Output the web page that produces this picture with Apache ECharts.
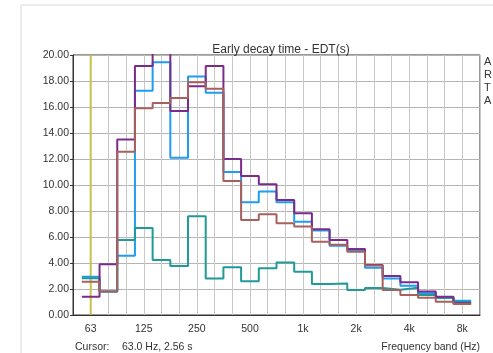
<!DOCTYPE html>
<html>
<head>
<meta charset="utf-8">
<script src="https://cdn.jsdelivr.net/npm/echarts@6/dist/echarts.min.js"></script>
<style>
html,body{margin:0;padding:0;background:#fff;}
#c{width:493px;height:353px;}
</style>
</head>
<body>
<div id="c"></div>
<script>
// 1/3-octave bands, index 1..22 on the x scale (index 0 = 50 Hz, 23 = 10 kHz)
const bands = ['63','80','100','125','160','200','250','315','400','500','630','800','1k','1.25k','1.6k','2k','2.5k','3.15k','4k','5k','6.3k','8k'];
const octaveLabels = {1:'63',4:'125',7:'250',10:'500',13:'1k',16:'2k',19:'4k',22:'8k'};
const blueVals   = [2.95,1.8,4.56,17.25,19.45,12.1,18.35,17.1,11.0,8.67,9.5,8.67,7.18,6.5,5.33,4.95,3.64,2.8,2.25,1.67,1.35,1.1];
const tealVals   = [2.82,1.8,5.77,6.7,4.23,3.77,7.6,2.8,3.67,2.6,3.6,4.03,3.33,2.38,2.42,1.92,2.08,1.95,2.1,1.54,1.3,1.0];
const purpleVals = [1.41,3.9,13.5,19.15,21.0,15.7,17.6,19.15,12.0,10.7,10.05,8.85,7.82,6.6,5.77,5.08,3.85,3.0,2.51,1.8,1.41,0.9];
const brownVals  = [2.56,1.8,12.56,15.9,16.3,16.7,17.9,17.4,10.3,7.3,7.75,7.05,6.8,5.64,5.4,4.87,3.8,1.92,1.54,1.33,1.02,0.85];
const cursorBand = 1;

function stepData(vals){
  const d = vals.map((v,i)=>[i+0.5, v]);
  d.push([vals.length+0.5, vals[vals.length-1]]);
  return d;
}
function stepSeries(name, vals, color){
  return {name, type:'line', step:'end', data:stepData(vals), symbol:'none',
    lineStyle:{color, width:2}, clip:true, silent:true, animation:false};
}
const chart = echarts.init(document.getElementById('c'), null, {renderer:'canvas'});
chart.setOption({
  animation:false,
  backgroundColor:'#fff',
  title:{text:'Early decay time - EDT(s)', left:276, top:39, textAlign:'center',
    textStyle:{fontFamily:'Liberation Sans, Arial', fontSize:12, fontWeight:'normal', color:'#333'}},
  grid:{left:73, right:13, top:55, bottom:38, show:true, borderColor:'#333', borderWidth:1, containLabel:false},
  xAxis:{type:'value', min:0, max:23, interval:1,
    axisLine:{show:true, lineStyle:{color:'#333'}}, axisTick:{show:false},
    axisLabel:{fontFamily:'Liberation Sans, Arial', fontSize:10.5, color:'#333', margin:9,
      formatter:v=>octaveLabels[v]||''},
    splitLine:{show:true, lineStyle:{color:'#c8c8c8', width:1}}},
  yAxis:{type:'value', min:0, max:20, interval:2,
    axisLine:{show:true, lineStyle:{color:'#333'}},
    axisTick:{show:true, length:3, lineStyle:{color:'#333'}},
    axisLabel:{fontFamily:'Liberation Sans, Arial', fontSize:10.5, color:'#333', margin:4,
      formatter:v=>v.toFixed(2)},
    splitLine:{show:true, lineStyle:{color:'#b4b4b4', width:1}}},
  series:[
    {type:'line', data:[[cursorBand,0],[cursorBand,20]], symbol:'none',
      lineStyle:{color:'#c9c04a', width:2}, silent:true, z:1},
    stepSeries('blue', blueVals, '#1e9cf0'),
    stepSeries('teal', tealVals, '#1f9a98'),
    stepSeries('purple', purpleVals, '#7b2b8b'),
    stepSeries('brown', brownVals, '#a8605c')
  ],
  graphic:[
    {type:'rect', shape:{x:21, y:5, width:520, height:400}, style:{fill:'none', stroke:'#d8d8d8', lineWidth:1}, z:-10},
    {type:'text', left:484, top:55, style:{text:'A\nR\nT\nA', font:'11px Liberation Sans, Arial', fill:'#333', lineHeight:13}},
    {type:'text', left:75, top:342, style:{text:'Cursor:', font:'10.5px Liberation Sans, Arial', fill:'#333'}},
    {type:'text', left:122, top:342, style:{text:'63.0 Hz, 2.56 s', font:'10.5px Liberation Sans, Arial', fill:'#333'}},
    {type:'text', right:13, top:342, style:{text:'Frequency band (Hz)', font:'10.5px Liberation Sans, Arial', fill:'#333', textAlign:'right'}}
  ]
});
</script>
</body>
</html>
